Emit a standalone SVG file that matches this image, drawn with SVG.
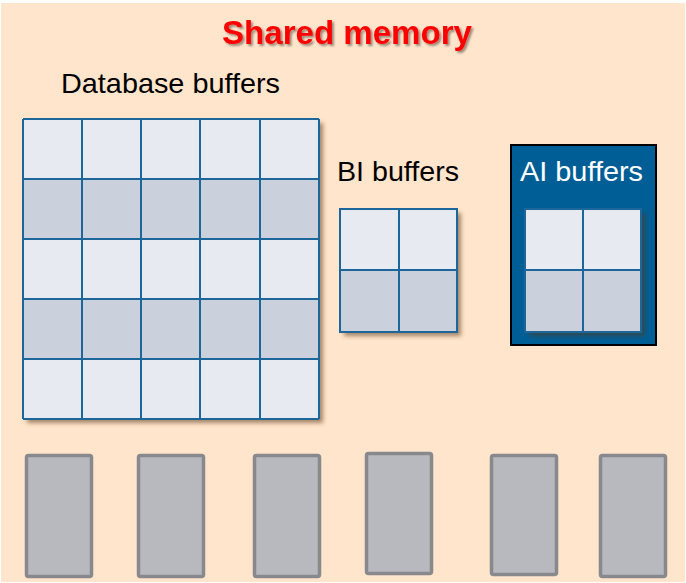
<svg xmlns="http://www.w3.org/2000/svg" width="686" height="583" viewBox="0 0 686 583">
<defs>
<filter id="sh" x="-10%" y="-10%" width="130%" height="130%">
<feGaussianBlur in="SourceAlpha" stdDeviation="2.2"/>
<feOffset dx="4" dy="4" result="b"/>
<feFlood flood-color="#5a3a1a" flood-opacity="0.55"/>
<feComposite in2="b" operator="in"/>
<feMerge><feMergeNode/><feMergeNode in="SourceGraphic"/></feMerge>
</filter>
<filter id="tsh" x="-5%" y="-20%" width="110%" height="150%">
<feGaussianBlur in="SourceAlpha" stdDeviation="1"/>
<feOffset dx="2" dy="2" result="b"/>
<feFlood flood-color="#000" flood-opacity="0.4"/>
<feComposite in2="b" operator="in"/>
<feMerge><feMergeNode/><feMergeNode in="SourceGraphic"/></feMerge>
</filter>
</defs>
<style>
.lbl{font-family:"Liberation Sans",Arial,sans-serif;font-size:28px;fill:#000}
.lt{fill:#E7EAF0}
.dk{fill:#CBD1DC}
.gl{stroke:#1C6699;stroke-width:2;fill:none}
.slot{fill:#B8B9BE;stroke:#88898D;stroke-width:3.5}
</style>
<rect x="1" y="3" width="684" height="579" fill="#FFE5CB"/>
<text x="347" y="44" text-anchor="middle" font-family="'Liberation Sans',Arial,sans-serif" font-weight="bold" font-size="34" fill="#FF0000" textLength="250" lengthAdjust="spacingAndGlyphs" filter="url(#tsh)">Shared memory</text>

<g id="database-buffers">
<text class="lbl" x="61" y="93" textLength="219" lengthAdjust="spacingAndGlyphs">Database buffers</text>
<g filter="url(#sh)">
<rect x="23" y="119" width="296" height="300" class="lt"/>
<rect x="23" y="179" width="296" height="60" class="dk"/>
<rect x="23" y="299" width="296" height="60" class="dk"/>
</g>
<path class="gl" d="M23 119V419M82 119V419M141 119V419M200 119V419M260 119V419M319 119V419M23 119H319M23 179H319M23 239H319M23 299H319M23 359H319M23 419H319"/>
</g>

<g id="bi-buffers">
<text class="lbl" x="337" y="181" textLength="122" lengthAdjust="spacingAndGlyphs">BI buffers</text>
<g filter="url(#sh)">
<rect x="340" y="209" width="117" height="123" class="lt"/>
<rect x="340" y="270" width="117" height="62" class="dk"/>
</g>
<path class="gl" d="M340 209H457V332H340ZM399 209V332M340 270H457"/>
</g>

<g id="ai-buffers">
<rect x="511" y="145" width="145" height="200" fill="#005E96" stroke="#000" stroke-width="2"/>
<text class="lbl" x="520" y="181" textLength="123" lengthAdjust="spacingAndGlyphs" style="fill:#fff">AI buffers</text>
<g filter="url(#sh)">
<rect x="525" y="209" width="116" height="123" class="lt"/>
<rect x="525" y="270" width="116" height="62" class="dk"/>
</g>
<path class="gl" d="M525 209H641V332H525ZM583 209V332M525 270H641"/>
</g>

<g id="slots">
<rect id="slot1" class="slot" x="26.5" y="455.5" width="65" height="121" rx="2"/>
<rect id="slot2" class="slot" x="138.5" y="455.5" width="65" height="121" rx="2"/>
<rect id="slot3" class="slot" x="254.5" y="455.5" width="65" height="121" rx="2"/>
<rect id="slot4" class="slot" x="366.5" y="453.5" width="65" height="120" rx="2"/>
<rect id="slot5" class="slot" x="491.5" y="455.5" width="65" height="119" rx="2"/>
<rect id="slot6" class="slot" x="600.5" y="455.5" width="65" height="121" rx="2"/>
</g>
<g id="connectors"/>
</svg>
